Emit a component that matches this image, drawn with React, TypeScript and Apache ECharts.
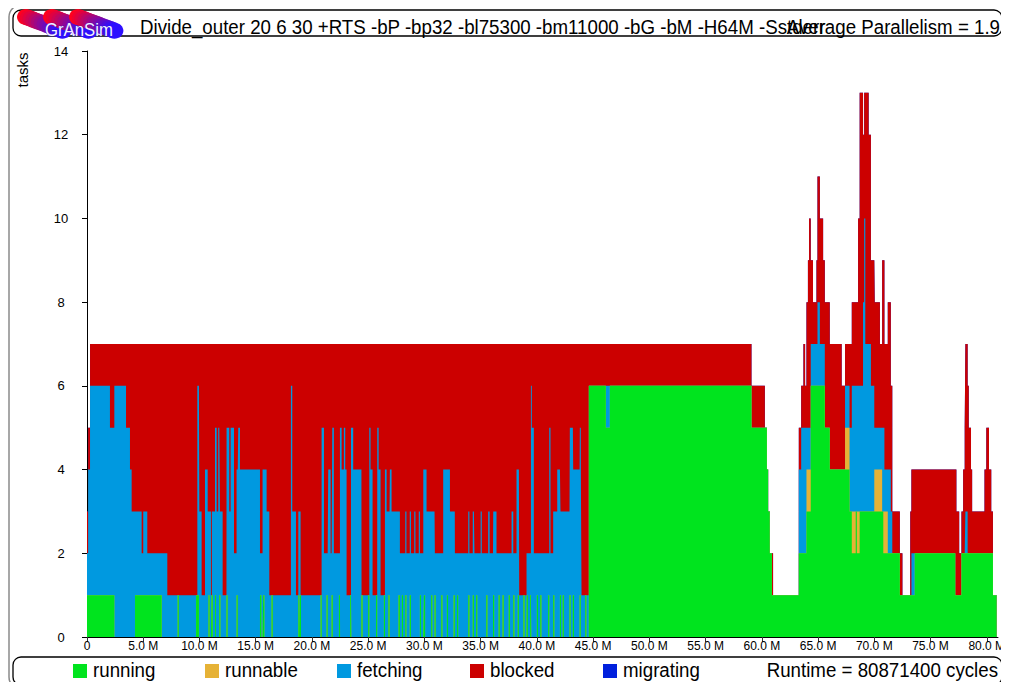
import React, { useEffect, useRef } from 'react';
import * as echarts from 'echarts';

// ---------------- data ----------------
const programTitle = 'Divide_outer 20 6 30 +RTS -bP -bp32 -bl75300 -bm11000 -bG -bM -H64M -Sstderr';
const avgParallelismLabel = 'Average Parallelism = 1.9';
const runtimeCycles = 80871400;
const endTime = 80.8714; // in millions of cycles

const stateNames = ['running', 'runnable', 'fetching', 'blocked', 'migrating'];
const stateColors = ['#00e41e', '#e6b236', '#0099e0', '#cc0000', '#0020dd'];

const xTickValues = [0, 5, 10, 15, 20, 25, 30, 35, 40, 45, 50, 55, 60, 65, 70, 75, 80];
const yTickValues = [0, 2, 4, 6, 8, 10, 12, 14];

// Step lists: [start time (M cycles), stack level reached by this state]
const runningTop = [
  [0, 1], [2.43, 0], [4.27, 1], [6.64, 0], [44.62, 6], [46.13, 5], [46.49, 6], [59.08, 5],
  [60.45, 4], [60.56, 3], [60.7, 2], [60.9, 1], [63.29, 2], [63.97, 3], [64.35, 6], [65.6, 5],
  [66.04, 4], [67.8, 3], [68.0, 2], [68.35, 3], [68.45, 2], [68.7, 3], [70.8, 2], [72.27, 1],
  [73.6, 2], [77.2, 1], [77.75, 2], [80.55, 1],
];

// short intervals in which one task runs (level 1) inside the fetching band
const runningBlips = [
  [8.06, 8.16], [9.7, 9.95], [10.8, 10.9], [11.08, 11.18], [11.38, 11.46], [11.76, 11.86], [12.4, 12.5],
  [13.3, 13.4], [15.38, 15.5], [15.67, 15.77], [16.41, 16.51], [18.79, 18.87], [18.93, 19.03],
  [20.77, 20.87], [21.3, 21.4], [21.75, 21.85], [22.4, 22.5], [23.4, 23.5], [24.4, 24.5], [25.0, 25.1],
  [25.7, 25.8], [26.4, 26.5], [26.8, 26.9], [27.7, 27.82], [28.0, 28.1], [28.3, 28.4], [28.7, 28.8],
  [29.6, 29.7], [29.96, 30.06], [30.6, 30.7], [30.9, 31.0], [31.5, 31.6], [32.0, 32.1], [32.6, 32.7],
  [32.9, 33.0], [33.9, 34.0], [34.3, 34.4], [34.6, 34.7], [35.5, 35.6], [36.1, 36.2], [36.6, 36.7],
  [36.95, 37.05], [37.5, 37.6], [37.9, 38.0], [38.3, 38.4], [38.8, 38.9], [39.1, 39.2], [39.4, 39.5],
  [40.0, 40.1], [40.3, 40.4], [41.0, 41.1], [41.45, 41.55], [42.05, 42.15], [42.3, 42.4], [42.9, 43.0],
  [43.2, 43.3], [43.8, 43.9], [44.3, 44.4],
];

const runnableTop = [
  [0, 0], [63.97, 4], [64.35, 0], [67.4, 5], [67.8, 0], [68.0, 3], [68.35, 0], [68.45, 3], [68.7, 0],
  [70.0, 4], [70.7, 0], [70.8, 3], [71.2, 0],
];

const fetchingTop = [
  [0, 2], [0.1, 4], [0.27, 6], [2.04, 5], [2.43, 6], [3.47, 5], [3.82, 4], [3.97, 3], [4.86, 2], [5.0, 3],
  [5.36, 2], [7.14, 1], [9.81, 6], [9.99, 3], [10.19, 1], [10.49, 4], [10.73, 3], [11.02, 1], [11.1, 3],
  [11.38, 5], [11.53, 3], [11.67, 5], [11.82, 3], [12.06, 1], [12.41, 5], [12.65, 3], [12.77, 5],
  [13.07, 2], [13.3, 4], [13.45, 5], [13.6, 4], [15.38, 2], [15.61, 4], [15.97, 3], [16.21, 1],
  [18.13, 6], [18.25, 3], [18.58, 1], [18.79, 3], [18.99, 1], [20.86, 5], [21.07, 2], [21.45, 4],
  [21.66, 2], [21.81, 5], [21.95, 2], [22.49, 5], [22.64, 4], [22.84, 5], [22.96, 4], [23.08, 1],
  [23.47, 5], [23.67, 4], [24.41, 1], [25.1, 5], [25.21, 4], [25.39, 1], [25.81, 5], [25.93, 4],
  [26.1, 1], [26.49, 4], [26.64, 3], [26.93, 4], [27.08, 3], [27.82, 2], [28.3, 3], [28.4, 2],
  [28.7, 3], [28.8, 2], [29.1, 3], [29.2, 2], [29.5, 3], [29.6, 2], [29.9, 4], [30.19, 3], [30.93, 2],
  [31.67, 4], [32.27, 3], [32.71, 2], [33.9, 3], [34.0, 2], [34.3, 3], [34.45, 2], [35.0, 3], [35.1, 2],
  [35.67, 3], [35.8, 2], [36.12, 3], [36.41, 2], [37.75, 3], [37.9, 2], [38.19, 4], [38.43, 1],
  [39.08, 2], [39.47, 6], [39.55, 5], [39.73, 2], [41.1, 5], [41.21, 2], [41.45, 3], [41.81, 4],
  [42.1, 3], [42.93, 5], [43.23, 4], [43.82, 5], [43.91, 4], [43.97, 1], [44.62, 0], [46.13, 6],
  [46.49, 0], [63.29, 4], [63.5, 5], [63.97, 5], [64.35, 7], [64.95, 8], [65.16, 7], [65.6, 0],
  [67.4, 6], [67.8, 5], [68.0, 6], [69.0, 8], [69.1, 10], [69.2, 7], [69.7, 6], [70.0, 5], [70.9, 4],
  [71.47, 3], [71.6, 2], [72.27, 0], [73.3, 2], [73.6, 0], [78.1, 3], [78.3, 0],
];

const blockedTop = [
  [0, 3], [0.1, 5], [0.27, 7], [59.08, 6], [60.27, 0], [60.7, 2], [61.0, 0], [63.29, 5], [63.5, 6],
  [63.7, 7], [63.85, 6], [63.97, 8], [64.1, 9], [64.2, 10], [64.35, 9], [64.55, 8], [64.86, 9],
  [64.95, 11], [65.16, 10], [65.45, 9], [65.6, 8], [66.04, 7], [67.1, 6], [67.4, 7], [68.0, 8],
  [68.56, 10], [68.7, 13], [69.0, 12], [69.1, 13], [69.5, 12], [69.7, 9], [70.04, 8], [70.5, 7],
  [70.7, 9], [70.9, 7], [71.2, 8], [71.47, 6], [71.6, 3], [72.27, 2], [72.5, 0], [73.2, 3], [73.3, 4],
  [77.3, 3], [77.55, 2], [77.75, 3], [77.9, 4], [78.04, 5], [78.1, 7], [78.3, 6], [78.4, 5], [78.6, 4],
  [78.7, 3], [79.8, 4], [79.96, 5], [80.2, 4], [80.4, 3], [80.55, 0],
];

// ---------------- helpers ----------------
function stepValue(steps: number[][], t: number): number {
  let v = 0;
  for (const s of steps) {
    if (s[0] <= t + 1e-9) v = s[1];
    else break;
  }
  return v;
}
function blipValue(t: number): number {
  return runningBlips.some(([a, b]) => t >= a - 1e-9 && t < b - 1e-9) ? 1 : 0;
}

// cumulative stack levels per state: [running, runnable, fetching, blocked, migrating]
function buildLevels() {
  const set = new Set<number>();
  const add = (v: number) => set.add(Math.round(v * 1000) / 1000);
  [runningTop, runnableTop, fetchingTop, blockedTop].forEach((l) => l.forEach((s) => add(s[0])));
  runningBlips.forEach(([a, b]) => { add(a); add(b); });
  const times = Array.from(set).filter((t) => t < endTime).sort((a, b) => a - b);
  const out: number[][][] = [[], [], [], [], []];
  let last = [0, 0, 0, 0, 0];
  times.forEach((t) => {
    const r = Math.max(stepValue(runningTop, t), blipValue(t));
    const y = Math.max(r, stepValue(runnableTop, t));
    const f = Math.max(y, stepValue(fetchingTop, t));
    const T = Math.max(f, stepValue(blockedTop, t));
    last = [r, y, f, T, T];
    last.forEach((v, i) => out[i].push([t, v]));
  });
  last.forEach((v, i) => out[i].push([endTime, v]));
  return out;
}

function mixColor(a: number[], b: number[], k: number) {
  const c = a.map((v, i) => Math.round(v + (b[i] - v) * k));
  return `rgb(${c[0]},${c[1]},${c[2]})`;
}

const FONT = '"Liberation Sans", Arial, Helvetica, sans-serif';

export default function App() {
  const ref = useRef<HTMLDivElement>(null);
  useEffect(() => {
    if (!ref.current) return;
    const chart = echarts.init(ref.current, null, { renderer: 'svg' });
    const levels = buildLevels();

    const logo: any[] = [];
    [26, 52, 78].forEach((sx) => {
      const n = 14;
      for (let i = 0; i < n; i++) {
        const k = i / (n - 1);
        logo.push({
          type: 'ellipse',
          shape: { cx: sx + i * 2.8, cy: 17 + i * 1.05, rx: 9, ry: 8 },
          style: { fill: mixColor([255, 0, 30], [45, 15, 255], k) },
          silent: true,
        });
      }
    });
    logo.push({
      type: 'text',
      x: 45,
      y: 30,
      scaleX: 0.93,
      style: {
        text: 'GrAnSim',
        font: `18px ${FONT}`,
        fill: '#f4f0ff',
        stroke: '#2a1ad0',
        lineWidth: 0.6,
        align: 'left',
        verticalAlign: 'middle',
      },
      silent: true,
    });

    const legendX = [73, 205, 337, 470, 603];
    const legendEls: any[] = [];
    stateNames.forEach((name, i) => {
      legendEls.push({
        type: 'rect',
        shape: { x: legendX[i], y: 664, width: 14, height: 14 },
        style: { fill: stateColors[i] },
        silent: true,
      });
      legendEls.push({
        type: 'text',
        x: legendX[i] + 20,
        y: 670,
        scaleX: 0.935,
        style: { text: name, font: `20px ${FONT}`, fill: '#000', align: 'left', verticalAlign: 'middle' },
        silent: true,
      });
    });

    // paint from the top of the stack down: each area fills from its level to 0,
    // lower states are painted over it
    const paintOrder = [4, 3, 2, 1, 0];
    const series = paintOrder.map((idx, k) => ({
      name: stateNames[idx],
      type: 'line',
      step: 'end',
      symbol: 'none',
      showSymbol: false,
      data: levels[idx],
      lineStyle: { width: 0, opacity: 0 },
      itemStyle: { color: stateColors[idx] },
      areaStyle: { color: stateColors[idx], opacity: 1, origin: 'start' },
      emphasis: { disabled: true },
      z: 2 + k,
      silent: true,
    }));

    const option: any = {
      animation: false,
      backgroundColor: '#ffffff',
      grid: { left: 87, right: 11, top: 51, bottom: 53, containLabel: false },
      xAxis: {
        type: 'value',
        min: 0,
        max: 81,
        splitLine: { show: false },
        axisLine: { show: true, onZero: false, lineStyle: { color: '#000', width: 1 } },
        axisTick: { show: true, length: 5, lineStyle: { color: '#333' }, customValues: xTickValues },
        axisLabel: {
          customValues: xTickValues,
          margin: 3,
          color: '#000',
          fontSize: 12,
          fontFamily: FONT,
          formatter: (v: number) => (v === 0 ? '0' : `${v.toFixed(1)} M`),
        },
      },
      yAxis: {
        type: 'value',
        min: 0,
        max: 14,
        interval: 2,
        splitLine: { show: false },
        axisLine: { show: true, lineStyle: { color: '#000', width: 1 } },
        axisTick: { show: true, length: 5, lineStyle: { color: '#000' } },
        axisLabel: {
          customValues: yTickValues,
          margin: 26,
          align: 'center',
          color: '#000',
          fontSize: 13,
          fontFamily: FONT,
        },
      },
      series,
      graphic: {
        elements: [
          {
            type: 'rect',
            shape: { x: 9, y: 5, width: 997, height: 684, r: 12 },
            style: { fill: 'none', stroke: '#8a8a8a', lineWidth: 1.5 },
            silent: true,
          },
          {
            type: 'rect',
            shape: { x: 13, y: 10, width: 989, height: 26, r: 8 },
            style: { fill: 'none', stroke: '#000', lineWidth: 1.3 },
            silent: true,
          },
          {
            type: 'rect',
            shape: { x: 13, y: 657, width: 989, height: 28, r: 8 },
            style: { fill: 'none', stroke: '#000', lineWidth: 1.3 },
            silent: true,
          },
          ...logo,
          {
            type: 'text',
            x: 140,
            y: 27,
            scaleX: 0.935,
            style: { text: programTitle, font: `20px ${FONT}`, fill: '#000', align: 'left', verticalAlign: 'middle' },
            silent: true,
          },
          {
            type: 'text',
            x: 1000,
            y: 27,
            scaleX: 0.935,
            style: { text: avgParallelismLabel, font: `20px ${FONT}`, fill: '#000', align: 'right', verticalAlign: 'middle' },
            silent: true,
          },
          {
            type: 'text',
            x: 22,
            y: 70,
            rotation: Math.PI / 2,
            style: { text: 'tasks', font: `15px ${FONT}`, fill: '#000', align: 'center', verticalAlign: 'middle' },
            silent: true,
          },
          ...legendEls,
          {
            type: 'text',
            x: 998,
            y: 670,
            scaleX: 0.935,
            style: {
              text: `Runtime = ${runtimeCycles} cycles`,
              font: `20px ${FONT}`,
              fill: '#000',
              align: 'right',
              verticalAlign: 'middle',
            },
            silent: true,
          },
        ],
      },
    };
    chart.setOption(option);
    return () => chart.dispose();
  }, []);

  return <div ref={ref} style={{ width: 1009, height: 690, margin: '-8px' }} />;
}
